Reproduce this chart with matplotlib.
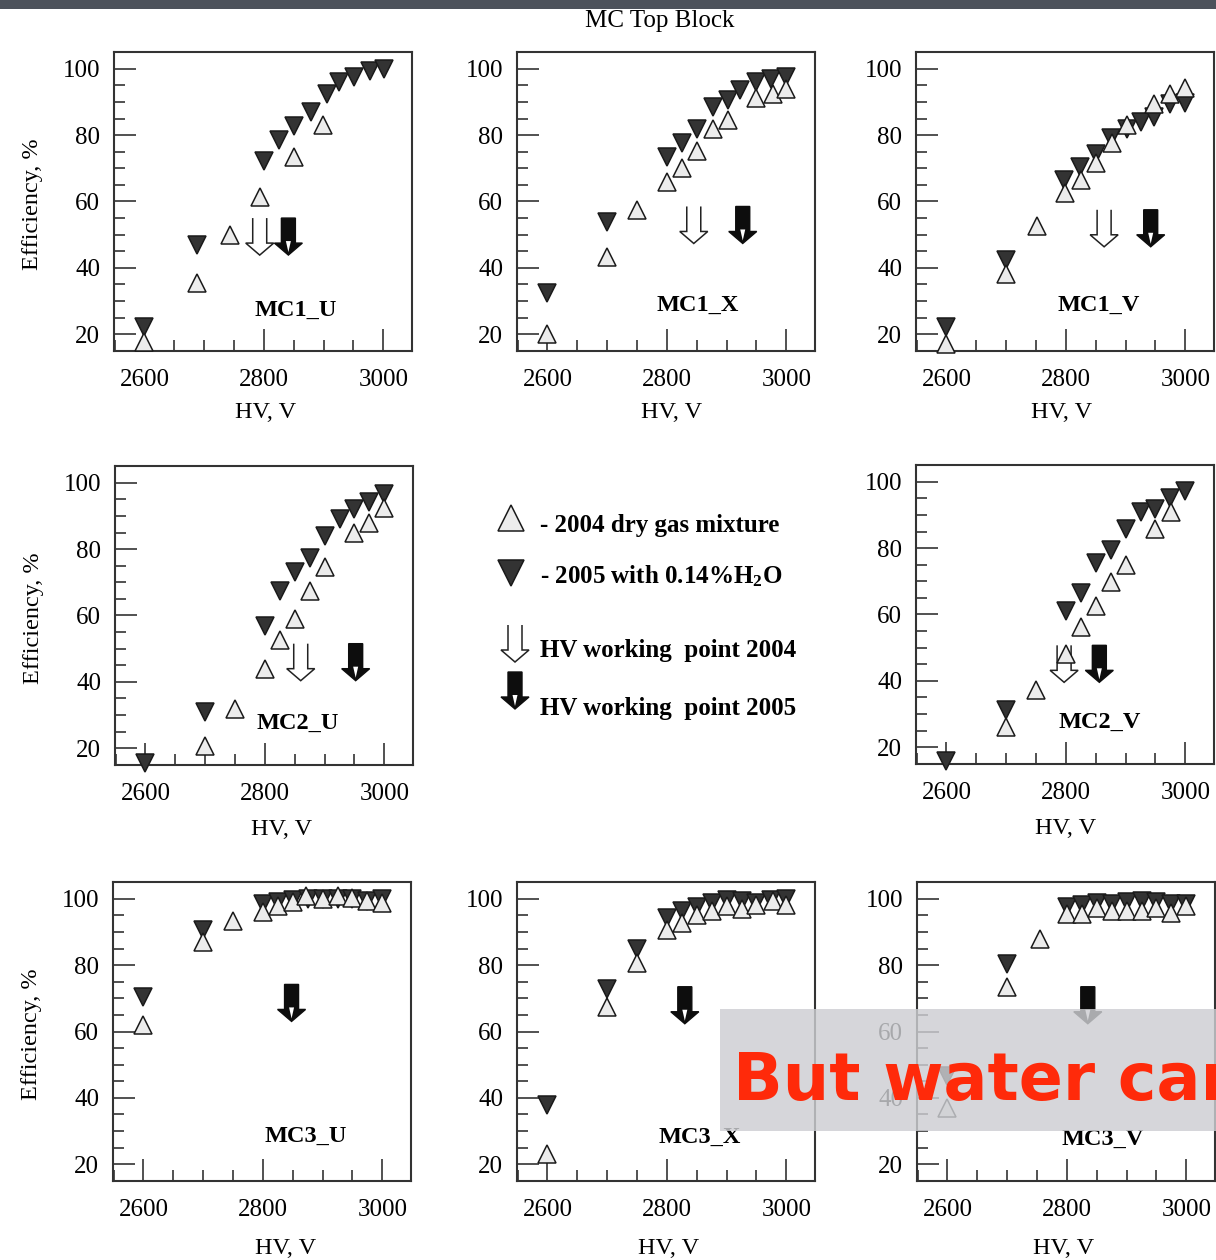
import matplotlib
matplotlib.use('Agg')
import matplotlib.pyplot as plt
from matplotlib import transforms as mtransforms
from matplotlib.patches import Polygon, Rectangle
from matplotlib.ticker import MultipleLocator

plt.rcParams['font.family'] = ['Liberation Serif', 'DejaVu Serif']

# ---- data (HV in V, efficiency in %) ----
mc1u_hv04 = [2600, 2688, 2743, 2793, 2850, 2899]
mc1u_eff04 = [17.5, 35.5, 50, 61.5, 73.3, 83]
mc1u_hv05 = [2600, 2688, 2800, 2826, 2850, 2879, 2905, 2925, 2951, 2977, 3001]
mc1u_eff05 = [22, 47, 72.3, 78.5, 82.7, 87, 92.5, 96, 97.7, 99.5, 100]

mc1x_hv04 = [2600, 2700, 2750, 2800, 2825, 2850, 2878, 2903, 2950, 2977, 3000]
mc1x_eff04 = [20, 43.3, 57.5, 66, 70, 75.3, 82, 84.7, 91.3, 92.5, 94]
mc1x_hv05 = [2600, 2700, 2800, 2825, 2850, 2878, 2903, 2922, 2949, 2975, 3000]
mc1x_eff05 = [32.5, 53.7, 73.5, 77.7, 82, 88.5, 90.5, 93.7, 96, 97, 97.7]

mc1v_hv04 = [2600, 2700, 2752, 2798, 2825, 2850, 2877, 2902, 2948, 2974, 3000]
mc1v_eff04 = [17, 38, 52.5, 62.5, 66.5, 71.5, 77.7, 83, 89.5, 92.5, 94.3]
mc1v_hv05 = [2600, 2700, 2797, 2823, 2850, 2875, 2903, 2925, 2947, 2974, 3000]
mc1v_eff05 = [22, 42.5, 66.5, 70.5, 74.3, 79.3, 82, 84, 85.5, 89.5, 89.7]

mc2u_hv04 = [2700, 2750, 2800, 2825, 2850, 2875, 2900, 2950, 2975, 3000]
mc2u_eff04 = [20.5, 31.8, 44, 52.5, 59, 67.5, 74.5, 85, 88, 92.5]
mc2u_hv05 = [2600, 2700, 2800, 2825, 2850, 2875, 2900, 2925, 2950, 2975, 3000]
mc2u_eff05 = [15.5, 30.8, 56.8, 67.5, 73.2, 77.2, 84, 89, 92, 94.2, 96.8]

mc2v_hv04 = [2700, 2750, 2800, 2825, 2850, 2875, 2900, 2950, 2976]
mc2v_eff04 = [26.2, 37.2, 48.2, 56.2, 62.7, 69.7, 74.9, 85.7, 91]
mc2v_hv05 = [2600, 2700, 2800, 2825, 2850, 2875, 2900, 2925, 2950, 2975, 3000]
mc2v_eff05 = [15.7, 31.2, 61.2, 66.5, 75.5, 79.5, 85.7, 91, 91.7, 95.2, 97.2]

mc3u_hv04 = [2600, 2700, 2750, 2800, 2825, 2850, 2872, 2900, 2925, 2950, 2975, 3000]
mc3u_eff04 = [62, 86.9, 93.4, 96, 98, 99, 101, 100, 101, 100.2, 99.5, 98.8]
mc3u_hv05 = [2600, 2700, 2800, 2825, 2850, 2875, 2900, 2925, 2950, 2975, 3000]
mc3u_eff05 = [70.5, 90.7, 98.5, 99, 99.8, 100, 100, 100, 100, 99.5, 100]

mc3x_hv04 = [2600, 2700, 2750, 2800, 2825, 2850, 2875, 2900, 2925, 2950, 2977, 3000]
mc3x_eff04 = [22.9, 67.5, 80.8, 90.5, 92.8, 95, 96.3, 97.8, 97, 98.1, 99.3, 98.3]
mc3x_hv05 = [2600, 2700, 2750, 2800, 2825, 2850, 2875, 2900, 2925, 2950, 2975, 3000]
mc3x_eff05 = [37.7, 72.8, 84.8, 94.1, 96.3, 97.5, 98.8, 99.8, 99.5, 98.8, 99.8, 100]

mc3v_hv04 = [2600, 2700, 2755, 2800, 2825, 2850, 2875, 2900, 2925, 2950, 2975, 3000]
mc3v_eff04 = [36.8, 73.5, 87.8, 95.3, 95.3, 97.3, 96.5, 96.5, 96.3, 97.3, 95.8, 97.8]
mc3v_hv05 = [2600, 2700, 2800, 2825, 2850, 2875, 2900, 2925, 2950, 2975, 3000]
mc3v_eff05 = [46.5, 80.5, 97.5, 98.3, 98.8, 98.5, 99, 99.3, 99, 98.5, 98.5]

# HV working points (arrows) and the efficiency level where each arrow starts
panel_names = ['MC1_U', 'MC1_X', 'MC1_V', 'MC2_U', 'MC2_V', 'MC3_U', 'MC3_X', 'MC3_V']
wp_2004 = [2793, 2845, 2864, 2860, 2797, None, None, None]
wp_2005 = [2841, 2927, 2942, 2952, 2856, 2848, 2830, 2835]
arrow_level = [55, 58.5, 57.5, 51.5, 50.7, 74.2, 73.5, 73.5]

series = {
    'MC1_U': (mc1u_hv04, mc1u_eff04, mc1u_hv05, mc1u_eff05),
    'MC1_X': (mc1x_hv04, mc1x_eff04, mc1x_hv05, mc1x_eff05),
    'MC1_V': (mc1v_hv04, mc1v_eff04, mc1v_hv05, mc1v_eff05),
    'MC2_U': (mc2u_hv04, mc2u_eff04, mc2u_hv05, mc2u_eff05),
    'MC2_V': (mc2v_hv04, mc2v_eff04, mc2v_hv05, mc2v_eff05),
    'MC3_U': (mc3u_hv04, mc3u_eff04, mc3u_hv05, mc3u_eff05),
    'MC3_X': (mc3x_hv04, mc3x_eff04, mc3x_hv05, mc3x_eff05),
    'MC3_V': (mc3v_hv04, mc3v_eff04, mc3v_hv05, mc3v_eff05),
}

# ---- layout (pixels of a 1216x1260 canvas) ----
W, H = 1216, 1260
# left, top of each panel box
boxes = {
    'MC1_U': (114, 52), 'MC1_X': (517, 52), 'MC1_V': (916, 52),
    'MC2_U': (115, 466), 'MC2_V': (916, 465),
    'MC3_U': (113, 882), 'MC3_X': (517, 882), 'MC3_V': (917, 882),
}
label_pos = {
    'MC1_U': (0.61, 0.137), 'MC1_X': (0.605, 0.154), 'MC1_V': (0.614, 0.154),
    'MC2_U': (0.614, 0.139), 'MC2_V': (0.617, 0.14),
    'MC3_U': (0.647, 0.148), 'MC3_X': (0.613, 0.145), 'MC3_V': (0.623, 0.138),
}
xlabel_x = {'MC1_U': 0.507, 'MC1_X': 0.518, 'MC1_V': 0.49, 'MC2_U': 0.56,
            'MC2_V': 0.503, 'MC3_U': 0.58, 'MC3_X': 0.51, 'MC3_V': 0.493}
xlabel_y = {'MC1_U': -0.207, 'MC1_X': -0.207, 'MC1_V': -0.207, 'MC2_U': -0.215,
            'MC2_V': -0.215, 'MC3_U': -0.225, 'MC3_X': -0.225, 'MC3_V': -0.225}
BW, BH = 298, 299

LIGHT = '#ececec'
DARK = '#333333'
EDGE = '#1a1a1a'


def draw_arrow(ax, x, y, filled, trans=None):
    # arrow shape in pixels, origin at the top of the shaft
    trans = ax.transData if trans is None else trans
    t = mtransforms.Affine2D() + mtransforms.ScaledTranslation(x, y, trans)
    verts = [(-7, 0), (-7, -25), (-14, -25), (0, -37), (14, -25), (7, -25), (7, 0)]
    if filled:
        ax.add_patch(Polygon(verts, closed=True, fc='#0d0d0d', ec='#0d0d0d', lw=1,
                             transform=t, zorder=2, clip_on=False))
        ax.add_patch(Polygon([(-2.5, -23), (2.5, -23), (0, -34)], closed=True,
                             fc='white', ec='none', transform=t, zorder=2.1, clip_on=False))
    else:
        ax.add_patch(Polygon(verts, closed=False, fc='white', ec='#222222', lw=1.1,
                             transform=t, zorder=2, clip_on=False))


fig = plt.figure(figsize=(W / 100, H / 100), dpi=100)
fig.patch.set_facecolor('white')

for i, name in enumerate(panel_names):
    left, top = boxes[name]
    ax = fig.add_axes([left / W, 1 - (top + BH) / H, BW / W, BH / H])
    hv04, eff04, hv05, eff05 = series[name]

    if wp_2004[i] is not None:
        draw_arrow(ax, wp_2004[i], arrow_level[i], filled=False)
    draw_arrow(ax, wp_2005[i], arrow_level[i], filled=True)

    ax.plot(hv05, eff05, linestyle='none', marker='v', ms=12.5, mfc=DARK, mec=EDGE,
            mew=1.1, clip_on=False, zorder=3)
    ax.plot(hv04, eff04, linestyle='none', marker='^', ms=12.5, mfc=LIGHT, mec=EDGE,
            mew=1.1, clip_on=False, zorder=4)

    ax.set_xlim(2549, 3048)
    ax.set_ylim(14.9, 105.1)
    ax.xaxis.set_major_locator(MultipleLocator(200))
    ax.xaxis.set_minor_locator(MultipleLocator(50))
    ax.yaxis.set_major_locator(MultipleLocator(20))
    ax.yaxis.set_minor_locator(MultipleLocator(5))
    ax.tick_params(which='major', direction='in', length=16, width=1.1, color='#222222',
                   top=False, right=False, labelsize=18)
    ax.tick_params(which='minor', direction='in', length=8, width=1.1, color='#222222',
                   top=False, right=False)
    ax.tick_params(axis='x', pad=13)
    ax.tick_params(axis='y', pad=10)
    for sp in ax.spines.values():
        sp.set_color('#333333')
        sp.set_linewidth(1.5)

    ax.text(*label_pos[name], name, transform=ax.transAxes, ha='center', va='center',
            fontsize=17.5, fontweight='bold')
    ax.text(xlabel_x[name], xlabel_y[name], 'HV, V', transform=ax.transAxes, ha='center',
            va='center', fontsize=17.5)
    if left < 200:
        ax.text(-0.272, 0.49, 'Efficiency, %', transform=ax.transAxes, rotation=90,
                ha='center', va='center', fontsize=17.5)

# ---- legend in the centre slot ----
leg = fig.add_axes([480 / W, 1 - 730 / H, 340 / W, 250 / H])
leg.set_xlim(0, 340)
leg.set_ylim(250, 0)
leg.axis('off')
leg.plot([31], [38], linestyle='none', marker='^', ms=19, mfc=LIGHT, mec=EDGE, mew=1.1,
         clip_on=False)
leg.plot([31], [93], linestyle='none', marker='v', ms=19, mfc=DARK, mec=EDGE, mew=1.1,
         clip_on=False)
draw_arrow(leg, 35, 145, filled=False)
draw_arrow(leg, 35, 192, filled=True)
leg_texts = ['- 2004 dry gas mixture', r'- 2005 with 0.14%H$\mathregular{_2}$O',
             'HV working  point 2004', 'HV working  point 2005']
for txt, yy in zip(leg_texts, [45, 96, 170, 228]):
    leg.text(60, yy, txt, ha='left', va='center', fontsize=18, fontweight='bold')

fig.text(660 / W, 1 - 21 / H, 'MC Top Block', ha='center', va='center', fontsize=18)

# dark strip at the very top of the slide
fig.add_artist(Rectangle((0, 1 - 9 / H), 1, 9 / H, transform=fig.transFigure,
                         fc='#4d525b', ec='none', zorder=10))

# translucent caption box with red handwriting
fig.add_artist(Rectangle((720 / W, 1 - 1131 / H), (W - 720) / W, 122 / H,
                         transform=fig.transFigure, fc='#cdced2', ec='none',
                         alpha=0.82, zorder=10))
fig.text(733 / W, 1 - 1100 / H, 'But water can', ha='left', va='baseline',
         fontsize=47, fontweight='bold', family='DejaVu Sans', color='#ff2a0a', zorder=11)

fig.savefig('out.png', dpi=100)
